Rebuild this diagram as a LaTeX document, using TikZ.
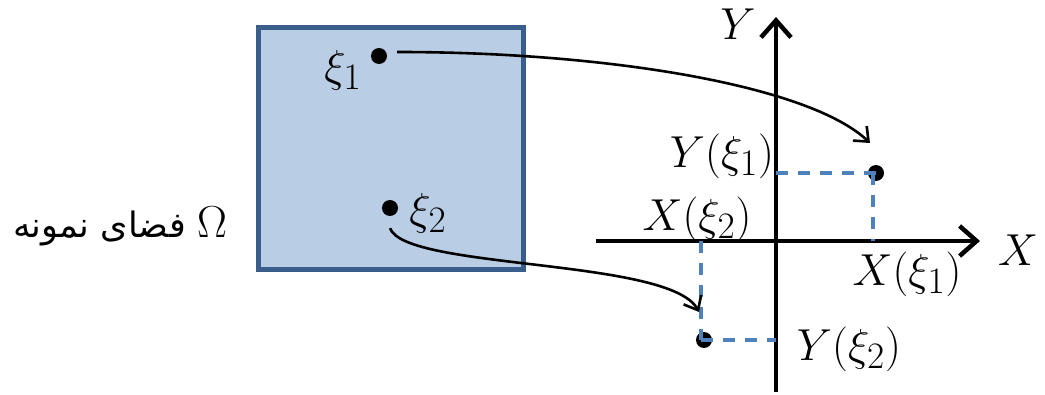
\documentclass[tikz,border=0pt]{standalone}
\usepackage{fontspec}
\usepackage{graphicx}
\usetikzlibrary{arrows.meta}
\TeXXeTstate=1
\newfontfamily\arabicfont[Script=Arabic]{DejaVu Sans}
\newcommand\mlbl[1]{\scalebox{1.8}{\Huge$#1$}}
\definecolor{boxfill}{HTML}{B9CDE5}
\definecolor{boxline}{HTML}{3A5E8C}
\definecolor{dashblue}{HTML}{4F81BD}
\tikzset{
  x=1pt, y=-1pt,
  lbl/.style={inner sep=0pt},
  dotpt/.style={circle, fill=black, inner sep=0pt, minimum size=16pt},
  axis/.style={line width=4.5pt, -{Straight Barb[length=17pt,width=30pt,line width=4.5pt]}},
  mapcurve/.style={line width=2.6pt, -{Straight Barb[length=12pt,width=20pt,line width=2.6pt]}},
  proj/.style={dashblue, line width=3.3pt, dash pattern=on 12pt off 10pt},
}
\begin{document}
\begin{tikzpicture}
\useasboundingbox (0,0) rectangle (1045,395);
% sample space box
\node[draw=boxline, fill=boxfill, line width=5pt, minimum width=265pt, minimum height=242pt, inner sep=0pt] (omega) at (391,148.5) {};
\node[dotpt] (p1) at (379,56) {};
\node[dotpt] (p2) at (390,208) {};
\node[lbl] (l1) at (343,70) {\mlbl{\xi_1}};
\node[lbl] (l2) at (428,213) {\mlbl{\xi_2}};
\node[inner sep=0pt, font=\fontsize{35}{40}\selectfont] (omlabel) at (120,226) {\arabicfont\beginR فضای نمونه\endR{} \mlbl{\Omega}};
% axes
\coordinate (xs) at (596,241);
\coordinate (xe) at (980,241);
\coordinate (ys) at (776,392);
\coordinate (ye) at (776,17);
\draw[axis] (xs) -- (xe);
\draw[axis] (ys) -- (ye);
\node[lbl] (xl) at (1018,250) {\mlbl{X}};
\node[lbl] (yl) at (738,24) {\mlbl{Y}};
% image points
\node[dotpt] (q1) at (876,173) {};
\node[dotpt] (q2) at (704,340) {};
\coordinate (q1y) at (776,173);
\coordinate (q1x) at (873,241);
\coordinate (q2x) at (701,241);
\coordinate (q2y) at (776,340);
\draw[proj] (q1y) -- (q1.center);
\draw[proj] (q1.center) ++(-3,0) coordinate (q1c) -- (q1x);
\draw[proj] (q2x) -- (701,340) coordinate (q2c);
\draw[proj] (q2c) -- (q2y);
\node[lbl] (ly1) at (722,156) {\mlbl{Y(\xi_1)}};
\node[lbl] (lx2) at (697,219) {\mlbl{X(\xi_2)}};
\node[lbl] (lx1) at (907,274) {\mlbl{X(\xi_1)}};
\node[lbl] (ly2) at (849,349) {\mlbl{Y(\xi_2)}};
% mapping curves
\coordinate (e1) at (870,143);
\coordinate (e2) at (699,312);
\draw[mapcurve] (p1.east) ++(10,-4) .. controls (610,52) and (810,86) .. (e1);
\draw[mapcurve] (p2.south) ++(0,12) .. controls (405,270) and (670,258) .. (e2);
\end{tikzpicture}
\end{document}
